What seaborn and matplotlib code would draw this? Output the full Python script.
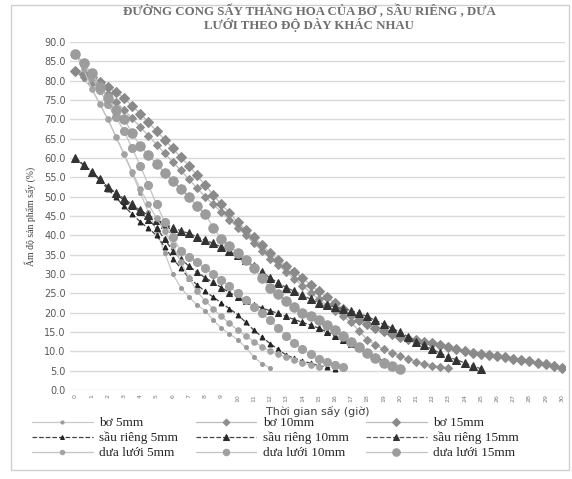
import matplotlib
matplotlib.use("Agg")
import matplotlib.pyplot as plt
import matplotlib.patches as patches
import seaborn as sns

# drying time grid (hours, every half hour)
time_h = [i / 2 for i in range(61)]

# moisture content (%), one value per half hour
bo_5 = [82.5, 80.5, 78.0, 74.0, 70.0, 65.5, 61.0, 56.0, 51.0, 46.0, 41.0, 35.5, 30.0,
        26.5, 24.0, 22.0, 20.5, 18.0, 16.0, 14.5, 13.0, 11.0, 8.5, 6.8, 5.7]
bo_10 = [82.5, 81.0, 79.5, 78.0, 76.5, 74.5, 72.5, 70.3, 68.0, 65.8,
         63.5, 61.2, 59.0, 56.8, 54.5, 52.2, 50.0, 48.0, 46.0, 44.0,
         42.0, 40.0, 38.0, 36.0, 34.0, 32.3, 30.5, 28.7, 27.0, 25.2,
         23.5, 22.0, 20.5, 19.0, 17.5, 15.2, 13.0, 11.7, 10.5, 9.6,
         8.8, 8.0, 7.3, 6.8, 6.3, 6.0, 5.7]
bo_15 = [82.5, 81.8, 81.0, 79.8, 78.5, 77.0, 75.5, 73.5, 71.5, 69.3,
         67.0, 64.8, 62.5, 60.2, 58.0, 55.5, 53.0, 50.5, 48.0, 45.8,
         43.5, 41.5, 39.5, 37.5, 35.5, 33.7, 32.0, 30.5, 29.0, 27.2,
         25.5, 24.0, 22.5, 21.0, 19.5, 18.2, 17.0, 16.1, 15.2, 14.5,
         13.8, 13.3, 12.9, 12.5, 12.1, 11.5, 11.0, 10.5, 10.0, 9.6,
         9.3, 9.0, 8.7, 8.4, 8.1, 7.7, 7.4, 7.0, 6.6, 6.1, 5.7]
sr_5 = [60.0, 58.2, 56.5, 54.2, 52.0, 49.8, 47.5, 45.5, 43.5, 41.8,
        40.0, 37.0, 34.0, 31.5, 29.0, 27.2, 25.5, 24.0, 22.5, 21.0,
        19.5, 17.5, 15.5, 13.7, 12.0, 10.5, 9.0, 8.2, 7.5, 6.9,
        6.3, 5.9, 5.5]
sr_10 = [60.0, 58.3, 56.5, 54.5, 52.5, 50.8, 49.0, 47.5, 46.0, 44.0,
         42.0, 39.0, 36.0, 34.0, 32.0, 30.5, 29.0, 27.8, 26.5, 25.2,
         24.0, 23.0, 22.0, 21.2, 20.5, 19.8, 19.0, 18.2, 17.5, 16.8,
         16.0, 15.0, 14.0, 13.0, 12.0, 10.8, 9.5, 8.5, 7.5, 6.5, 5.5]
sr_15 = [60.0, 58.2, 56.5, 54.5, 52.5, 51.0, 49.5, 48.0, 46.5, 45.2,
         44.0, 43.0, 42.0, 41.2, 40.5, 39.6, 38.8, 37.9, 37.0, 36.0,
         35.0, 33.5, 32.0, 30.5, 29.0, 27.7, 26.5, 25.5, 24.5, 23.5,
         22.5, 22.0, 21.5, 21.0, 20.5, 19.8, 19.0, 18.0, 17.0, 16.0,
         15.0, 13.8, 12.5, 11.5, 10.5, 9.5, 8.5, 7.8, 7.0, 6.2, 5.5]
dl_5 = [87.0, 83.0, 78.0, 74.0, 70.0, 65.5, 61.0, 56.5, 52.0, 48.0,
        44.5, 41.0, 37.5, 33.0, 29.0, 25.5, 23.0, 21.0, 19.0, 17.2,
        15.5, 14.0, 12.5, 11.2, 10.0, 9.2, 8.5, 7.7, 7.0, 6.5, 6.0]
dl_10 = [87.0, 84.5, 81.0, 77.5, 74.0, 70.5, 67.0, 62.5, 58.0, 53.0,
         48.0, 43.5, 39.5, 36.0, 34.5, 33.0, 31.5, 30.0, 28.5, 26.8,
         25.0, 23.2, 21.5, 19.8, 18.0, 16.0, 14.0, 12.2, 10.5, 9.2,
         8.0, 7.2, 6.5, 6.0]
dl_15 = [87.0, 84.5, 82.0, 78.5, 75.5, 72.5, 70.0, 66.5, 63.0, 60.8,
         58.5, 56.2, 54.0, 52.0, 50.0, 47.5, 45.5, 42.0, 39.0, 37.2,
         35.5, 33.5, 31.5, 29.0, 26.5, 24.7, 23.0, 21.5, 20.0, 19.0,
         18.0, 16.8, 15.5, 14.0, 12.5, 11.0, 9.5, 8.2, 7.0, 6.2, 5.5]

series_names = ["bơ 5mm", "bơ 10mm", "bơ 15mm",
                "sầu riêng 5mm", "sầu riêng 10mm", "sầu riêng 15mm",
                "dưa lưới 5mm", "dưa lưới 10mm", "dưa lưới 15mm"]
series_values = [bo_5, bo_10, bo_15, sr_5, sr_10, sr_15, dl_5, dl_10, dl_15]

# marker, size, marker colour, line colour, line style
styles = [
    ("o", 2.8, "#9a9a9a", "#c8c8c8", "-"),
    ("D", 4.3, "#8e8e8e", "#bdbdbd", "-"),
    ("D", 5.0, "#8a8a8a", "#bdbdbd", "-"),
    ("^", 3.5, "#222222", "#444444", "--"),
    ("^", 4.8, "#2a2a2a", "#444444", "--"),
    ("^", 6.2, "#333333", "#555555", "--"),
    ("o", 4.0, "#a3a3a3", "#c4c4c4", "-"),
    ("o", 5.8, "#a0a0a0", "#c4c4c4", "-"),
    ("o", 6.8, "#9c9c9c", "#c4c4c4", "-"),
]

sns.set_style("white")
fig = plt.figure(figsize=(5.72, 4.79), dpi=100)
ax = fig.add_axes([0.122, 0.186, 0.866, 0.726])

for name, vals, (mk, ms, mc, lc, ls) in zip(series_names, series_values, styles):
    sns.lineplot(x=time_h[:len(vals)], y=vals, ax=ax, color=lc, linestyle=ls,
                 linewidth=0.9, marker=mk, markersize=ms, markerfacecolor=mc,
                 markeredgecolor=mc, label=name, zorder=3)

ax.set_xlim(-0.35, 30.2)
ax.set_ylim(0, 90)
ax.set_yticks(range(0, 91, 5))
ax.set_yticklabels([f"{v:.1f}" for v in range(0, 91, 5)], fontsize=7, color="#595959")
ax.set_xticks(range(0, 31))
ax.set_xticklabels([str(v) for v in range(0, 31)], rotation=90, fontsize=4.5, color="#777777")
ax.tick_params(axis="both", length=0, pad=3)
ax.yaxis.grid(True, color="#d9d9d9", linewidth=1)
ax.set_axisbelow(True)
for s in ax.spines.values():
    s.set_visible(False)

ax.set_xlabel("Thời gian sấy (giờ)", fontsize=8, color="#404040", labelpad=3)
ax.set_ylabel("Ẩm độ sản phẩm sấy (%)", fontsize=7, color="#404040",
              family="Liberation Serif", labelpad=6)

fig.text(0.54, 0.962, "ĐƯỜNG CONG SẤY THĂNG HOA CỦA BƠ , SẦU RIÊNG , DƯA\nLƯỚI THEO ĐỘ DÀY KHÁC NHAU",
         ha="center", va="center", fontsize=9.3, fontweight="bold", color="#6f6f6f",
         family="Liberation Serif", linespacing=0.95)

# legend: rows are fruits, columns are thickness
h, l = ax.get_legend_handles_labels()
order = [0, 3, 6, 1, 4, 7, 2, 5, 8]
ax.legend([h[i] for i in order], [l[i] for i in order], ncol=3, frameon=False,
          loc="lower left", bbox_to_anchor=(0.04, 0.022), bbox_transform=fig.transFigure,
          prop={"family": "Liberation Serif", "size": 9.5}, handlelength=4.6,
          columnspacing=1.3, labelspacing=0.2, handletextpad=0.5, markerscale=0.8,
          borderpad=0.2)

fig.patches.append(patches.Rectangle((0.02, 0.018), 0.975, 0.972, transform=fig.transFigure,
                                     fill=False, edgecolor="#d0d0d0", linewidth=1))

fig.savefig("out.png", dpi=100)
